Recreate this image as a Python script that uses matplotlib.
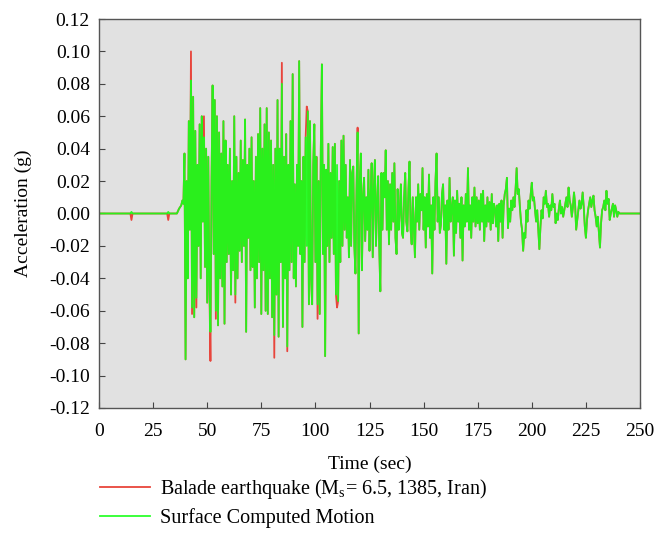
import numpy as np
import matplotlib
matplotlib.use("Agg")
import matplotlib.pyplot as plt
from matplotlib.ticker import FormatStrFormatter

plt.rcParams['font.family'] = ['Liberation Serif', 'DejaVu Serif']
plt.rcParams['mathtext.fontset'] = 'custom'
plt.rcParams['mathtext.rm'] = 'Liberation Serif'

#quiet part before the shaking (sec, milli-g)
quiet_time = [0, 14.5, 15.0, 15.5, 31.5, 32.0, 32.5, 36.0, 37.0, 37.5]
quiet_surface = [0, 0, 1, 0, 0, 1, 0, 0, 3, 4]

#strong part, sampled every 0.5 sec from 38.0 to 242.0 (milli-g)
main_start = 38.0
main_step = 0.5
surface_mg = [
    5, 8, 6, 37, -90, 20, -40, 57, -10, 82,
    -58, 72, -64, 51, -52, 30, -20, 55, -40, 60,
    -5, 47, -33, 40, -55, 35, -45, -73, 20, 79,
    -25, 70, -60, 60, -69, 50, -40, 37, -45, 57,
    -68, 45, -30, 30, -25, 40, -50, 20, -35, 60,
    -50, 35, -40, 25, -23, 45, -30, 33, -20, 58,
    -73, 30, -15, 40, -35, 47, -33, 20, -58, 35,
    -40, 49, -30, 65, -62, 40, -35, 55, -60, 65,
    -62, 50, -40, 45, -64, 30, -75, 40, -50, 70,
    -76, 40, -30, 80, -70, 35, -40, 49, -82, 30,
    -35, 57, -30, 86, -40, 18, -45, 30, -20, 94,
    -25, 20, -70, 35, -30, 47, -20, 63, -56, 57,
    -40, -56, 30, 55, -30, 35, -56, 20, -62, 40,
    92, -25, 30, -88, 27, -20, 43, -30, 25, -15,
    41, -25, 43, -50, 30, -54, 20, -30, 45, -20,
    48, -10, 30, -15, 10, -27, 33, -20, 25, 29,
    -20, -37, 15, 50, -74, 20, 37, -35, 10, 22,
    -17, 10, -10, 27, -23, 10, 31, -27, 15, 33,
    -20, 5, 23, -20, -48, 25, -10, 25, 10, 39,
    -10, 20, -19, 18, -10, 25, -5, 31, -15, -25,
    15, -10, 2, 18, -12, -15, 10, 25, -5, -11,
    15, 32, -10, -19, 10, -8, -27, 10, -5, 18,
    -10, 12, 2, 28, -10, 10, -21, 12, -8, 24,
    -15, 5, -37, 10, -10, 20, 37, -5, 10, -12,
    -7, 12, 18, -10, 5, -31, 8, -10, 22, -5,
    3, 10, -26, 8, -12, 14, -5, 6, -15, 10,
    -29, 5, -8, 12, -5, 28, -10, 5, -15, 10,
    -5, 16, -8, 10, -6, 8, -10, 12, -5, 14,
    -17, 5, -8, 10, -5, 7, -10, 12, -6, 6,
    3, -8, 5, -17, 6, -5, 8, -15, 5, 12,
    15, 22, -9, 3, -5, 8, 2, 10, 4, 15,
    28, 12, 15, 4, -5, -10, -23, -12, -15, 2,
    -5, 8, 3, 12, 19, 8, 10, 2, -5, 2,
    -10, -22, -8, 2, -3, 10, 6, 14, 4, 6,
    -2, 5, 2, 12, 4, 6, -6, 0, -4, 3,
    8, 0, 4, -2, 2, 6, 10, 4, 16, 8,
    5, -2, 4, 13, 6, -10, -4, 2, 8, 3,
    6, 13, 4, -8, -15, -4, 2, 6, 10, 4,
    8, 11, 2, -2, -8, -2, -12, -21, -6, 2,
    4, 8, 2, 14, 6, 9, -4, 0, 3, 6,
    -2, 5, 2, -2, 1, 0, 0, 0, 0,
]

#recorded motion, same as surface except at these times (sec: milli-g)
recorded_diff = {15.0: -4, 32.0: -4, 42.5: 100, 43.0: -62, 45.0: -58,
                 48.5: 60, 51.5: -91, 54.0: -65, 63.0: -55, 81.0: -89,
                 84.5: 93, 87.0: -85, 96.0: 66, 101.0: -65, 110.0: -58,
                 119.5: 53}

end_time = 250

main_time = main_start + main_step * np.arange(len(surface_mg))
time = np.concatenate([quiet_time, main_time, [end_time]])
surface = np.concatenate([quiet_surface, surface_mg, [0]]).astype(float)
recorded = surface.copy()
for t in recorded_diff:
    recorded[np.argmin(np.abs(time - t))] = recorded_diff[t]
surface = surface / 1000.0
recorded = recorded / 1000.0

fig = plt.figure(figsize=(6.56, 5.52), dpi=100)
ax = fig.add_axes([99 / 656, 1 - 408 / 552, 541 / 656, 389 / 552])
ax.set_facecolor('#e1e1e1')

ax.plot(time, recorded, color='#e8453c', lw=1.3, label='Balade earthquake (M$_\\mathrm{s}$= 6.5, 1385, Iran)')
ax.plot(time, surface, color='#1aff1a', lw=1.3, alpha=0.92, label='Surface Computed Motion')

ax.set_xlim(0, 250)
ax.set_ylim(-0.12, 0.12)
ax.set_xticks(np.arange(0, 251, 25))
ax.set_yticks(np.arange(-0.12, 0.121, 0.02))
ax.yaxis.set_major_formatter(FormatStrFormatter('%.2f'))
ax.tick_params(direction='in', length=4, labelsize=14, color='#444444', top=False, right=False)
ax.tick_params(axis='x', pad=11)
ax.tick_params(axis='y', pad=6.5)
for s in ax.spines.values():
    s.set_color('#555555')
    s.set_linewidth(1.0)

ax.set_xlabel('Time (sec)', fontsize=14, labelpad=11)
ax.set_ylabel('Acceleration (g)', fontsize=14, labelpad=12)

fig.legend(loc='upper left', bbox_to_anchor=(100 / 656, 1 - 477 / 552), frameon=False,
           fontsize=14.5, handlelength=2.5, handletextpad=0.5, labelspacing=0.35,
           borderpad=0, borderaxespad=0)

fig.savefig('out.png', dpi=100)
